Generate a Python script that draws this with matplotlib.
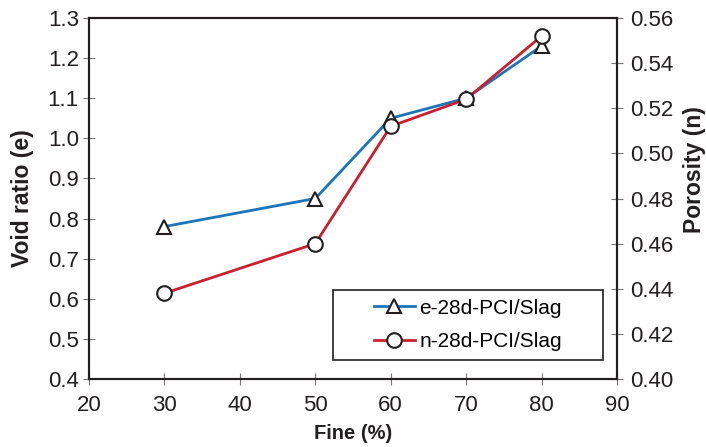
import matplotlib
matplotlib.use("Agg")
import matplotlib.pyplot as plt
from matplotlib.ticker import MultipleLocator, FormatStrFormatter
from matplotlib.patches import Rectangle

plt.rcParams['font.family'] = ['Liberation Sans', 'DejaVu Sans']

fine = [30, 50, 60, 70, 80]
void_ratio = [0.78, 0.85, 1.05, 1.10, 1.23]
porosity = [0.438, 0.46, 0.512, 0.524, 0.552]

blue = '#1b75bb'
red = '#cc1f2e'
dark = '#231f20'

fig = plt.figure(figsize=(7.06, 4.47), dpi=100)
ax = fig.add_axes([89/706, 68/447, (617-89)/706, (379-18)/447])
ax2 = ax.twinx()

l1, = ax.plot(fine, void_ratio, color=blue, lw=2.0, marker='^', ms=10,
              mfc='white', mec=dark, mew=1.5, label='e-28d-PCI/Slag')
l2, = ax2.plot(fine, porosity, color=red, lw=2.0, marker='o', ms=10.5,
               mfc='white', mec=dark, mew=1.5, label='n-28d-PCI/Slag')

ax.set_xlim(20, 90)
ax.set_ylim(0.4, 1.3)
ax2.set_ylim(0.40, 0.56)
ax.xaxis.set_major_locator(MultipleLocator(10))
ax.yaxis.set_major_locator(MultipleLocator(0.1))
ax.yaxis.set_major_formatter(FormatStrFormatter('%.1f'))
ax2.yaxis.set_major_locator(MultipleLocator(0.02))
ax2.yaxis.set_major_formatter(FormatStrFormatter('%.2f'))

for a in (ax, ax2):
    for s in a.spines.values():
        s.set_linewidth(1.5)
        s.set_color(dark)
    a.tick_params(direction='inout', length=8.6, width=0.8, color='#777777',
                  labelsize=16, labelcolor=dark)
ax.tick_params(axis='x', pad=7)
ax.tick_params(axis='y', pad=3)
ax2.tick_params(axis='y', pad=5)

ax.set_xlabel('Fine (%)', fontsize=14.5, fontweight='bold', color=dark, labelpad=6)
ax.set_ylabel('Void ratio (e)', fontsize=16.5, fontweight='bold', color=dark, labelpad=10)
ax2.set_ylabel('Porosity (n)', fontsize=16.5, fontweight='bold', color=dark, labelpad=7)
ax2.yaxis.label.set_y(0.58)

frame = Rectangle((0.462, 0.053), 0.511, 0.194, transform=ax2.transAxes,
                  facecolor='white', edgecolor=dark, lw=1.2, zorder=5)
ax2.add_patch(frame)
leg = ax2.legend(handles=[l1, l2], loc='center', bbox_to_anchor=(0.7175, 0.15),
                 fontsize=15, frameon=False, handlelength=2.0,
                 borderpad=0.0, labelspacing=0.7, handletextpad=0.2,
                 borderaxespad=0.0)
leg.set_zorder(6)

fig.savefig('out.png', dpi=100)
